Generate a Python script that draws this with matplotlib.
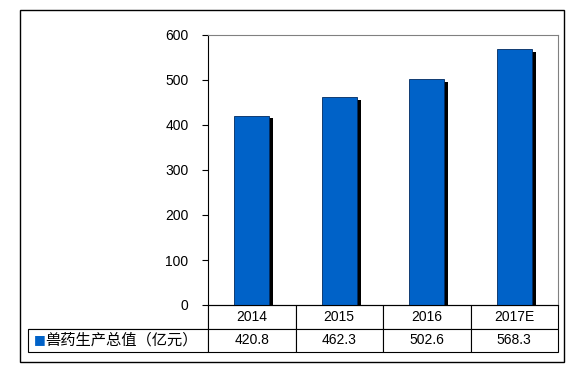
import matplotlib
matplotlib.use("Agg")
import matplotlib.pyplot as plt
import matplotlib.patheffects as pe
from matplotlib.patches import Rectangle

plt.rcParams['font.family'] = ['Liberation Sans', 'Noto Sans CJK SC', 'DejaVu Sans']

years = ['2014', '2015', '2016', '2017E']
values = [420.8, 462.3, 502.6, 568.3]
series_name = '兽药生产总值（亿元）'
yticks = [0, 100, 200, 300, 400, 500, 600]

bar_color = '#0062C8'

fig = plt.figure(figsize=(5.78, 3.72), dpi=100)
ax = fig.add_axes([208 / 578, 67 / 372, 350 / 578, 270 / 372])

x = list(range(len(years)))
bars = ax.bar(x, values, width=0.4, color=bar_color, edgecolor='#002a60', linewidth=0.6)
for b in bars:
    b.set_path_effects([pe.SimplePatchShadow(offset=(3, -2), shadow_rgbFace='black', alpha=1.0),
                        pe.Normal()])

ax.set_xlim(-0.5, len(years) - 0.5)
ax.set_ylim(0, 600)
ax.set_yticks(yticks)
ax.set_yticklabels([str(t) for t in yticks], fontsize=10)
ax.tick_params(axis='y', direction='out', length=4, width=0.8, pad=10, colors='black')
ax.set_xticks([])

ax.spines['left'].set_color('black')
ax.spines['bottom'].set_color('black')
ax.spines['top'].set_color('#808080')
ax.spines['right'].set_color('#808080')
for s in ax.spines.values():
    s.set_linewidth(0.8)

# data table below the plot
cell_text = [[''] + years, [''] + ['%.1f' % v for v in values]]
label_w = 180 / 530
col_w = 87.5 / 530
tbl = ax.table(cellText=cell_text, cellLoc='center',
               colWidths=[label_w] + [col_w] * len(years),
               bbox=[-180 / 350, -47 / 270, 530 / 350, 47 / 270])
tbl.auto_set_font_size(False)
tbl.set_fontsize(10)
for (r, c), cell in tbl.get_celld().items():
    cell.set_linewidth(0.8)
    if r == 0 and c == 0:
        cell.visible_edges = 'BR'
        cell.set_edgecolor('black')

# legend key + series name in label cell
ax.text(-180 / 350 + 6 / 350, -35 / 270, '■', transform=ax.transAxes, color=bar_color,
        fontsize=9, va='center', ha='left', family='DejaVu Sans')
ax.text(-180 / 350 + 17 / 350, -35 / 270, series_name, transform=ax.transAxes,
        fontsize=11, va='center', ha='left', family=['Noto Sans CJK SC', 'DejaVu Sans'])

# outer frame
fig.add_artist(Rectangle((20 / 578, 10 / 372), 544 / 578, 352 / 372, transform=fig.transFigure,
                         fill=False, edgecolor='black', linewidth=1))

fig.savefig('out.png', dpi=100)
